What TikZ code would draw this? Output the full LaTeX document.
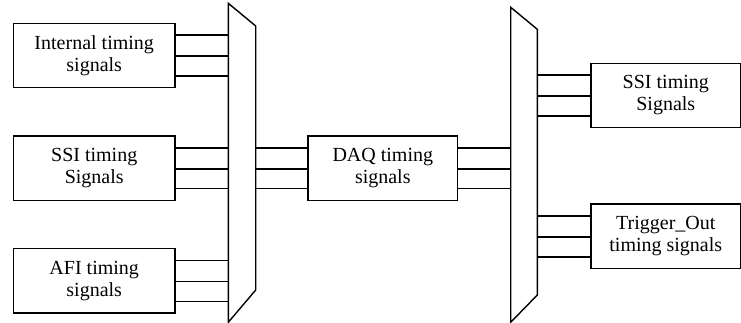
\documentclass[tikz,border=0pt]{standalone}
\usepackage{fontspec}
\setmainfont{Liberation Serif}
\begin{document}
\begin{tikzpicture}[x=1pt,y=-1pt,
  box/.style={draw,line width=1.4pt,minimum height=64.4pt,inner sep=0pt,align=center,
    font=\fontsize{20}{22}\selectfont},
  lbox/.style={box,minimum width=161.7pt},
  rbox/.style={box,minimum width=149.5pt},
  wire/.style={line width=1.4pt},
  mux/.style={draw,line width=1.4pt,line join=miter}]
\useasboundingbox (0,0) rectangle (741,323);
% multiplexers
\draw[mux] (228.3,3.3) coordinate (m1tl) -- (255.7,26) coordinate (m1tr) -- (255.7,290) -- (228.3,322.3) -- cycle;
\draw[mux] (510.7,7.3) coordinate (m2tl) -- (537.3,29.3) coordinate (m2tr) -- (537.3,295) -- (510.7,322.3) -- cycle;
% boxes
\node[lbox] (int) at (94.2,55.5) {Internal timing\\signals};
\node[lbox] (ssil) at (94.2,168.3) {SSI timing\\Signals};
\node[lbox] (afi) at (94.2,280.8) {AFI timing\\signals};
\node[rbox] (daq) at (382.8,168.3) {DAQ timing\\signals};
\node[rbox] (ssir) at (665.8,95.5) {SSI timing\\Signals};
\node[rbox] (trig) at (665.8,236.3) {Trigger\_Out\\timing signals};
% wires
\foreach \n in {int,ssil,afi}{
  \foreach \d in {-20.3,0.6,20.5}{
    \draw[wire] ([yshift=-\d pt]\n.east) -- ([yshift=-\d pt]\n.east -| m1tl);
  }
}
\foreach \d in {-20.3,0.6,20.5}{
  \draw[wire] ([yshift=-\d pt]daq.west) -- ([yshift=-\d pt]daq.west -| m1tr);
  \draw[wire] ([yshift=-\d pt]daq.east) -- ([yshift=-\d pt]daq.east -| m2tl);
}
\foreach \n in {ssir,trig}{
  \foreach \d in {-20.3,0.6,20.5}{
    \draw[wire] ([yshift=-\d pt]\n.west) -- ([yshift=-\d pt]\n.west -| m2tr);
  }
}
\end{tikzpicture}
\end{document}
